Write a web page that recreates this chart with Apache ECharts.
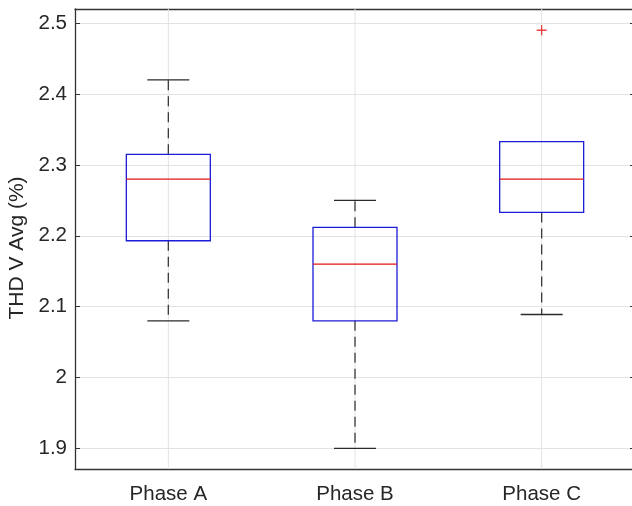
<!DOCTYPE html>
<html>
<head>
<meta charset="utf-8">
<script src="https://cdn.jsdelivr.net/npm/echarts@6/dist/echarts.min.js"></script>
<style>
  html, body { margin: 0; padding: 0; background: #fff; }
  #chart { width: 632px; height: 506px; }
</style>
</head>
<body>
<div id="chart"></div>
<script>
// box plot values
var phases = ['Phase A', 'Phase B', 'Phase C'];
var lowerWhisker = [2.08, 1.90, 2.089];
var q1 = [2.193, 2.08, 2.233];
var median = [2.28, 2.16, 2.28];
var q3 = [2.315, 2.212, 2.333];
var upperWhisker = [2.42, 2.25, 2.333];
var outlierPhase = [2];
var outlierValue = [2.49];

var yMin = 1.871;
var yMax = 2.52;

var fontFamily = '"Liberation Sans", Arial, sans-serif';
var textColor = '#262626';
var axisColor = '#333333';
var gridColor = '#e3e3e3';

var boxData = phases.map(function (p, i) {
  return [i, lowerWhisker[i], q1[i], median[i], q3[i], upperWhisker[i]];
});
var outlierData = outlierPhase.map(function (p, i) {
  return [p, outlierValue[i]];
});

function renderBox(params, api) {
  var idx = api.value(0);
  var band = api.size([1, 0])[0];
  var halfBox = band * 0.225;
  var halfCap = band * 0.1125;
  var pLow = api.coord([idx, api.value(1)]);
  var pQ1 = api.coord([idx, api.value(2)]);
  var pMed = api.coord([idx, api.value(3)]);
  var pQ3 = api.coord([idx, api.value(4)]);
  var pHigh = api.coord([idx, api.value(5)]);
  var cx = pMed[0];
  var cs = params.coordSys;

  var whiskerStyle = { stroke: '#3a3a3a', lineWidth: 1.3, lineDash: [10, 6] };
  var capStyle = { stroke: '#2a2a2a', lineWidth: 1.3 };

  var children = [
    // vertical grid line through the category
    { type: 'line', shape: { x1: cx, y1: cs.y, x2: cx, y2: cs.y + cs.height },
      style: { stroke: gridColor, lineWidth: 1 } }
  ];
  if (pHigh[1] < pQ3[1]) {
    children.push({ type: 'line', shape: { x1: cx, y1: pQ3[1], x2: cx, y2: pHigh[1] }, style: whiskerStyle });
    children.push({ type: 'line', shape: { x1: cx - halfCap, y1: pHigh[1], x2: cx + halfCap, y2: pHigh[1] }, style: capStyle });
  }
  children.push({ type: 'line', shape: { x1: cx, y1: pQ1[1], x2: cx, y2: pLow[1] }, style: whiskerStyle });
  children.push({ type: 'line', shape: { x1: cx - halfCap, y1: pLow[1], x2: cx + halfCap, y2: pLow[1] }, style: capStyle });
  children.push({
    type: 'rect',
    shape: { x: cx - halfBox, y: pQ3[1], width: halfBox * 2, height: pQ1[1] - pQ3[1] },
    style: { fill: 'none', stroke: '#1c1cd8', lineWidth: 1.3 }
  });
  children.push({
    type: 'line',
    shape: { x1: cx - halfBox, y1: pMed[1], x2: cx + halfBox, y2: pMed[1] },
    style: { stroke: '#e41414', lineWidth: 1.3 }
  });
  return { type: 'group', children: children };
}

var chart = echarts.init(document.getElementById('chart'));
var option = {
  animation: false,
  backgroundColor: '#fff',
  textStyle: { fontFamily: fontFamily },
  grid: { left: 75, right: -3, top: 9, bottom: 37, outerBoundsMode: 'none' },
  xAxis: [
    {
      type: 'category',
      data: phases,
      position: 'bottom',
      axisLine: { lineStyle: { color: axisColor, width: 1.3 } },
      axisTick: { inside: true, alignWithLabel: true, length: 5, lineStyle: { color: axisColor } },
      axisLabel: { color: textColor, fontSize: 20.5, margin: 15, fontFamily: fontFamily },
      splitLine: { show: false }
    },
    {
      type: 'category',
      data: phases,
      position: 'top',
      axisLine: { lineStyle: { color: axisColor, width: 1.3 } },
      axisTick: { inside: true, alignWithLabel: true, length: 5, lineStyle: { color: axisColor } },
      axisLabel: { show: false },
      splitLine: { show: false }
    }
  ],
  yAxis: [
    {
      type: 'value',
      min: yMin,
      max: yMax,
      splitNumber: 6,
      name: 'THD V Avg (%)',
      nameLocation: 'middle',
      nameGap: 44,
      nameTextStyle: { color: textColor, fontSize: 21, fontFamily: fontFamily, padding: [0, 18, 0, 0] },
      axisLine: { show: true, lineStyle: { color: axisColor, width: 1.3 } },
      axisTick: { show: true, inside: true, length: 5, lineStyle: { color: axisColor } },
      axisLabel: { color: textColor, fontSize: 20.5, margin: 8, showMinLabel: false, showMaxLabel: false, fontFamily: fontFamily },
      splitLine: { show: true, lineStyle: { color: gridColor, width: 1 } }
    },
    {
      type: 'value',
      min: yMin,
      max: yMax,
      splitNumber: 6,
      position: 'right',
      axisLine: { show: false },
      axisTick: { show: true, inside: true, length: 5, lineStyle: { color: axisColor } },
      axisLabel: { show: false },
      splitLine: { show: false }
    }
  ],
  series: [
    {
      name: 'THD',
      type: 'custom',
      renderItem: renderBox,
      encode: { x: 0, y: [1, 2, 3, 4, 5] },
      data: boxData,
      z: 3
    },
    {
      name: 'Outliers',
      type: 'scatter',
      symbol: 'path://M0,5L10,5M5,0L5,10',
      symbolSize: 10,
      itemStyle: { color: 'transparent', borderColor: '#e41414', borderWidth: 1.3 },
      data: outlierData,
      z: 4
    }
  ]
};
chart.setOption(option);
</script>
</body>
</html>
